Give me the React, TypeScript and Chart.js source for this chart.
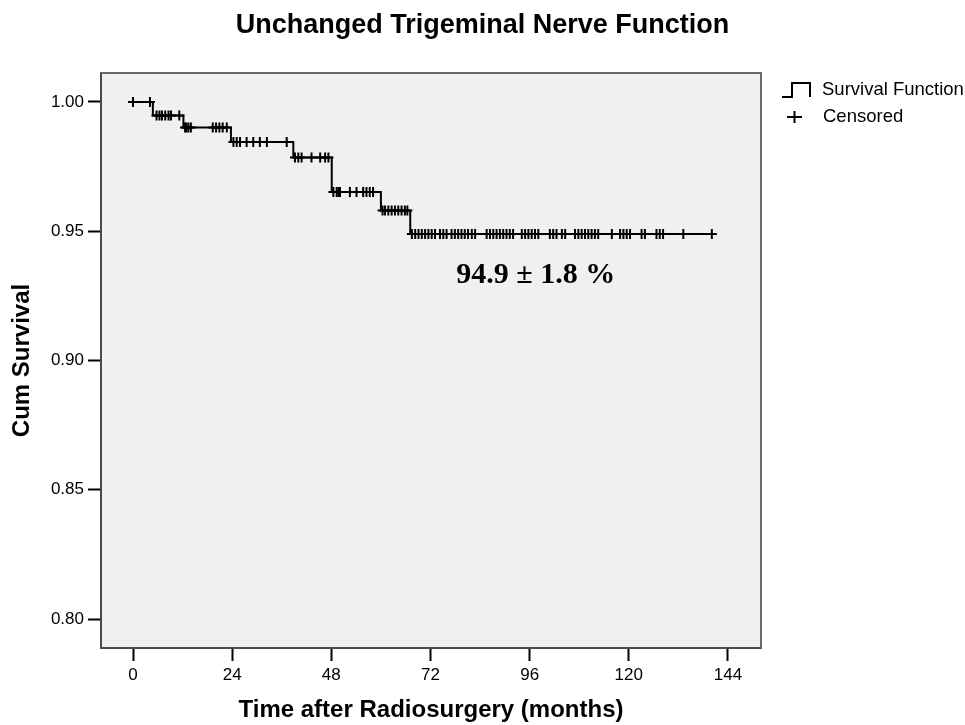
import React, { useEffect, useRef } from "react";
import { Chart, registerables } from "chart.js";

Chart.register(...registerables);

// ---- Data ----
const titleText = "Unchanged Trigeminal Nerve Function";
const xAxisTitle = "Time after Radiosurgery (months)";
const yAxisTitle = "Cum Survival";
const xTickValues = [0, 24, 48, 72, 96, 120, 144];
const yTickValues = [0.8, 0.85, 0.9, 0.95, 1.0];

// Kaplan–Meier step function: times at which survival changes and the new level
const eventTimes = [0, 4.8, 12.2, 23.7, 38.8, 48.1, 60.0, 67.1];
const survivalLevels = [1.0, 0.9948, 0.9901, 0.9845, 0.9785, 0.9652, 0.958, 0.9489];
const lastFollowUp = 140.1;

// Censored observations (months)
const censoredTimes = [
  0, 4.1,
  5.7, 6.4, 7.0, 7.8, 8.6, 9.2, 11.2,
  12.6, 12.9, 13.4, 14.0, 19.3, 20.1, 20.9, 21.7, 22.7,
  24.3, 25.1, 25.9, 27.5, 29.1, 30.7, 32.4, 37.2,
  39.2, 40.0, 40.8, 43.2, 45.3, 46.5, 47.3,
  48.5, 49.3, 49.7, 50.1, 52.5, 54.1, 55.7, 56.5, 57.3, 58.1,
  60.4, 61.0, 61.8, 62.6, 63.4, 64.2, 65.0, 65.8, 66.4,
  67.5, 68.3, 69.1, 69.9, 70.7, 71.5, 72.3, 73.1, 74.3, 75.1, 75.9,
  77.1, 77.9, 78.7, 79.5, 80.3, 81.1, 82.0, 82.8,
  85.6, 86.4, 87.2, 88.0, 88.8, 89.6, 90.4, 91.2, 92.0,
  94.1, 94.9, 95.7, 96.5, 97.3, 98.1,
  100.9, 101.7, 102.5, 103.8, 104.6,
  107.0, 107.8, 108.6, 109.4, 110.2, 111.0, 111.8, 112.6,
  115.9, 117.9, 118.7, 119.5, 120.3, 123.1, 123.9,
  126.7, 127.5, 128.3, 133.2, 140.1,
];

const annotationText = "94.9 ± 1.8 %";
const annotationAt = { x: 97.5, y: 0.9331 };

const legendLabels = ["Survival Function", "Censored"];

function levelAt(t: number): number {
  let s = survivalLevels[0];
  for (let i = 0; i < eventTimes.length; i++) {
    if (eventTimes[i] <= t) s = survivalLevels[i];
  }
  return s;
}

const SANS = "'Liberation Sans', Arial, sans-serif";

export default function App() {
  const canvasRef = useRef<HTMLCanvasElement | null>(null);

  useEffect(() => {
    const canvas = canvasRef.current;
    if (!canvas) return;

    const stepData = eventTimes.map((t, i) => ({ x: t, y: survivalLevels[i] }));
    stepData.push({ x: lastFollowUp, y: survivalLevels[survivalLevels.length - 1] });
    const censData = censoredTimes.map((t) => ({ x: t, y: levelAt(t) }));

    const framePlugin = {
      id: "frame",
      beforeDraw(chart: any) {
        const { ctx, chartArea: a } = chart;
        ctx.save();
        ctx.fillStyle = "#ffffff";
        ctx.fillRect(0, 0, chart.width, chart.height);
        ctx.fillStyle = "#f0f0f0";
        ctx.fillRect(a.left, a.top, a.right - a.left, a.bottom - a.top);
        ctx.restore();
      },
      afterDraw(chart: any) {
        const { ctx, chartArea: a } = chart;
        ctx.save();
        // box
        ctx.strokeStyle = "#6a6a6a";
        ctx.lineWidth = 2;
        ctx.strokeRect(a.left, a.top, a.right - a.left, a.bottom - a.top);
        ctx.strokeStyle = "#4a4a4a";
        ctx.beginPath();
        ctx.moveTo(a.left, a.top);
        ctx.lineTo(a.left, a.bottom);
        ctx.lineTo(a.right, a.bottom);
        ctx.stroke();

        // annotation
        const xs = chart.scales.x;
        const ys = chart.scales.y;
        ctx.fillStyle = "#000";
        ctx.font = "bold 30px 'Liberation Serif', 'Times New Roman', serif";
        ctx.textAlign = "center";
        ctx.textBaseline = "middle";
        ctx.fillText(annotationText, xs.getPixelForValue(annotationAt.x), ys.getPixelForValue(annotationAt.y));

        // legend
        const lx = a.right + 21;
        ctx.strokeStyle = "#000";
        ctx.lineWidth = 2;
        ctx.beginPath();
        ctx.moveTo(lx, 97);
        ctx.lineTo(lx + 10, 97);
        ctx.lineTo(lx + 10, 83);
        ctx.lineTo(lx + 28, 83);
        ctx.lineTo(lx + 28, 97);
        ctx.stroke();
        ctx.beginPath();
        ctx.moveTo(lx + 5, 117);
        ctx.lineTo(lx + 20, 117);
        ctx.moveTo(lx + 12.5, 111);
        ctx.lineTo(lx + 12.5, 123);
        ctx.stroke();
        ctx.font = `18.5px ${SANS}`;
        ctx.textAlign = "left";
        ctx.textBaseline = "middle";
        ctx.fillText(legendLabels[0], lx + 40, 90);
        ctx.fillText(legendLabels[1], lx + 41, 117);
        ctx.restore();
      },
    };

    const chart = new Chart(canvas, {
      type: "scatter",
      data: {
        datasets: [
          {
            label: legendLabels[0],
            data: stepData,
            showLine: true,
            stepped: true,
            borderColor: "#000",
            borderWidth: 2,
            pointRadius: 0,
            fill: false,
          } as any,
          {
            label: legendLabels[1],
            data: censData,
            showLine: false,
            pointStyle: "cross",
            pointRadius: 5,
            pointBorderWidth: 2,
            borderColor: "#000",
            backgroundColor: "#000",
          } as any,
        ],
      },
      options: {
        responsive: false,
        animation: false,
        devicePixelRatio: 1,
        layout: { padding: { left: 0, right: 0, top: 0, bottom: 0 } },
        plugins: {
          legend: { display: false },
          tooltip: { enabled: false },
          title: {
            display: true,
            text: titleText,
            color: "#000",
            font: { family: SANS, size: 27, weight: "bold" },
            padding: { top: 9, bottom: 31.6 },
          },
        },
        scales: {
          x: {
            type: "linear",
            position: "bottom",
            min: -7.75,
            max: 152,
            afterBuildTicks: (s: any) => {
              s.ticks = xTickValues.map((v) => ({ value: v }));
            },
            afterFit: (s: any) => {
              s.height = 77;
            },
            ticks: {
              color: "#000",
              font: { family: SANS, size: 17 },
              padding: 4,
              maxRotation: 0,
              autoSkip: false,
            },
            grid: {
              drawOnChartArea: false,
              drawTicks: true,
              tickLength: 13,
              tickWidth: 2,
              tickColor: "#000",
            },
            border: { display: false },
            title: {
              display: true,
              text: xAxisTitle,
              color: "#000",
              font: { family: SANS, size: 24, weight: "bold" },
              padding: { top: 0, bottom: 0 },
            },
          },
          y: {
            type: "linear",
            position: "left",
            min: 0.7888,
            max: 1.0112,
            afterBuildTicks: (s: any) => {
              s.ticks = yTickValues.map((v) => ({ value: v }));
            },
            afterFit: (s: any) => {
              s.width = 101;
            },
            ticks: {
              color: "#000",
              font: { family: SANS, size: 17 },
              padding: 4,
              callback: (v: any) => Number(v).toFixed(2),
            },
            grid: {
              drawOnChartArea: false,
              drawTicks: true,
              tickLength: 13,
              tickWidth: 2,
              tickColor: "#000",
            },
            border: { display: false },
            title: {
              display: true,
              text: yAxisTitle,
              color: "#000",
              font: { family: SANS, size: 24, weight: "bold" },
              padding: { top: 7.6, bottom: 0 },
            },
          },
          yRight: {
            type: "linear",
            position: "right",
            display: true,
            afterFit: (s: any) => {
              s.width = 204;
            },
            ticks: { display: false },
            grid: { display: false, drawTicks: false },
            border: { display: false },
          },
        },
      } as any,
      plugins: [framePlugin],
    });

    return () => {
      chart.destroy();
    };
  }, []);

  return (
    <div style={{ position: "fixed", left: 0, top: 0, width: 965, height: 725, background: "#fff" }}>
      <canvas ref={canvasRef} width={965} height={725} style={{ display: "block", width: 965, height: 725 }} />
    </div>
  );
}
